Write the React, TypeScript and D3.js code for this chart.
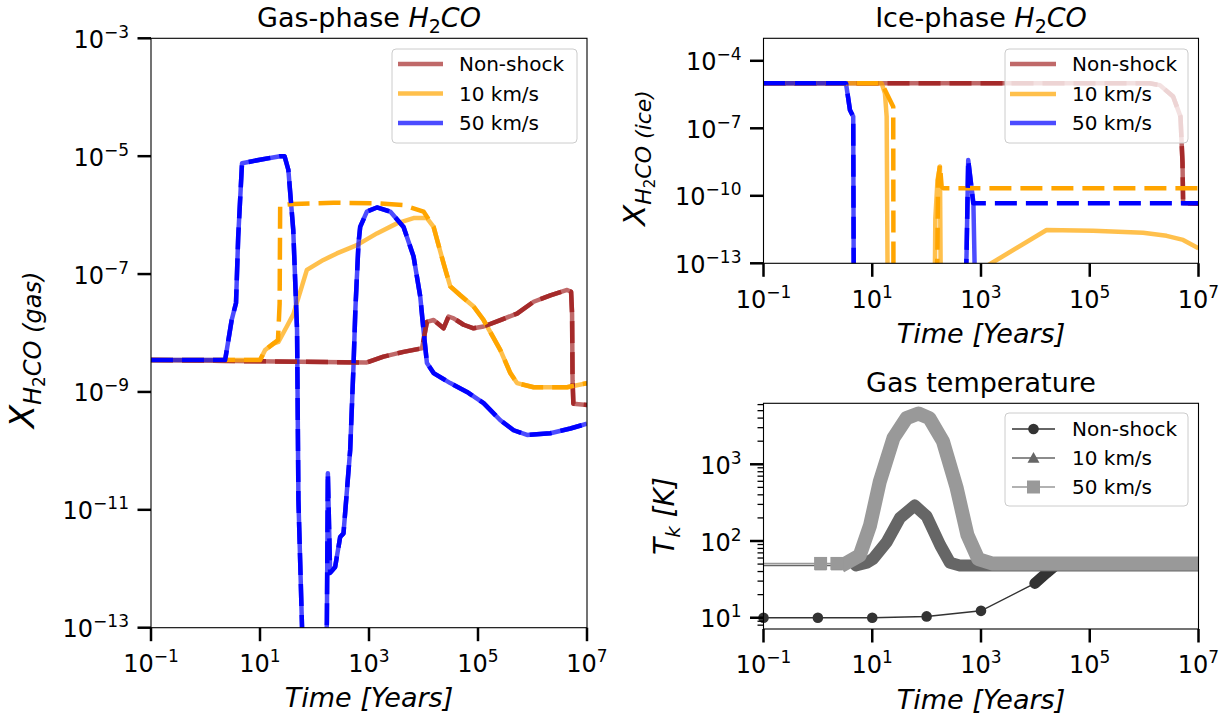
import React from 'react';
import * as d3 from 'd3';

const FONT = "'DejaVu Sans', 'Liberation Sans', sans-serif";

type P = [number, number];

// ---------- Gas-phase H2CO : [log10 time (yr), log10 abundance] ----------
const gasNonShock: P[] = [
  [-1, -8.46], [2.961, -8.5], [3.266, -8.4], [3.634, -8.32], [3.972, -8.26], [4.063, -7.81],
  [4.185, -7.78], [4.368, -7.92], [4.46, -7.72], [4.552, -7.75], [4.736, -7.86], [4.919, -7.92],
  [5.103, -7.89], [5.41, -7.78], [5.716, -7.67], [6.021, -7.47], [6.328, -7.36], [6.635, -7.27],
  [6.708, -7.3], [6.726, -7.67], [6.735, -8.8], [6.75, -9.2], [7.0, -9.22],
];
const gasShock10Solid: P[] = [
  [-1, -8.46], [1.0, -8.46], [1.094, -8.29], [1.246, -8.18], [1.338, -8.15], [1.492, -7.89],
  [1.613, -7.68], [1.768, -7.21], [1.86, -6.93], [2.164, -6.76], [2.41, -6.65], [2.778, -6.51],
  [3.145, -6.31], [3.512, -6.14], [3.817, -6.05], [4.063, -6.05], [4.185, -6.2], [4.368, -6.82],
  [4.491, -7.21], [4.675, -7.36], [4.919, -7.55], [5.103, -7.78], [5.41, -8.29], [5.593, -8.68],
  [5.716, -8.85], [6.021, -8.92], [6.635, -8.92], [7.0, -8.85],
];
const gasShock10Dashed: P[] = [
  [-1, -8.46], [1.0, -8.46], [1.094, -8.29], [1.246, -8.18], [1.33, -8.12], [1.36, -7.5],
  [1.37, -5.83], [1.613, -5.81], [2.348, -5.79], [3.145, -5.8], [3.634, -5.83], [4.0, -5.94],
  [4.185, -6.2], [4.368, -6.82], [4.491, -7.21], [4.675, -7.36], [4.919, -7.55], [5.103, -7.78],
  [5.41, -8.29], [5.593, -8.68], [5.716, -8.85], [6.021, -8.92], [6.635, -8.92], [7.0, -8.85],
];
const gasShock50: P[] = [
  [-1, -8.46], [0.36, -8.46], [0.48, -7.78], [0.56, -7.49], [0.6, -6.37], [0.67, -5.12],
  [1.0, -5.06], [1.37, -5.0], [1.45, -5.0], [1.52, -5.23], [1.61, -6.25], [1.68, -7.95],
  [1.705, -10.83], [1.77, -12.95], [1.8, -14], [2.2, -14], [2.227, -12.9], [2.245, -10.38],
  [2.287, -12.07], [2.379, -11.97], [2.471, -11.46], [2.532, -11.4], [2.655, -9.98], [2.715, -8.57],
  [2.75, -7.6], [2.807, -6.48], [2.838, -6.2], [2.961, -5.94], [3.145, -5.87], [3.389, -5.94],
  [3.634, -6.2], [3.817, -6.7], [3.94, -7.38], [4.0, -7.95], [4.063, -8.51], [4.185, -8.68],
  [4.491, -8.85], [4.798, -9.0], [5.103, -9.19], [5.41, -9.48], [5.654, -9.65], [5.9, -9.73],
  [6.328, -9.7], [6.695, -9.62], [7.0, -9.54],
];

// ---------- Ice-phase H2CO ----------
const iceNonShock: P[] = [
  [-1, -5.0], [6.1, -5.0], [6.289, -5.08], [6.533, -5.59], [6.669, -6.48], [6.706, -8.55],
  [6.717, -10.33], [7.0, -10.35],
];
const iceShock10Solid: P[] = [
  [-1, -5.0], [1.173, -5.0], [1.233, -5.44], [1.265, -6.48], [1.283, -14], [2.15, -14],
  [2.16, -11], [2.2, -9.3], [2.245, -8.7], [2.26, -14], [3.0, -14], [3.05, -13.2],
  [4.206, -11.52], [5.063, -11.55], [5.982, -11.64], [6.412, -11.78], [6.717, -11.96], [7.0, -12.33],
];
const iceShock10Dashed: P[] = [
  [-1, -5.0], [1.173, -5.0], [1.325, -5.74], [1.386, -6.04], [1.39, -14], [2.19, -14],
  [2.2, -12], [2.21, -9.3], [2.245, -8.63], [2.276, -9.59], [2.3, -9.66], [7.0, -9.66],
];
const iceShock50Solid: P[] = [
  [-1, -5.0], [0.517, -5.0], [0.59, -6.19], [0.65, -6.48], [0.66, -14], [2.72, -14],
  [2.735, -12.5], [2.765, -8.41], [2.86, -10.3], [2.89, -14], [7.0, -14],
];
const iceShock50Dashed: P[] = [
  [-1, -5.0], [0.517, -5.0], [0.59, -6.19], [0.65, -6.48], [0.66, -14], [2.72, -14],
  [2.735, -12.5], [2.765, -8.41], [2.857, -10.33], [7.0, -10.33],
];

// ---------- Gas temperature : [log10 time (yr), T (K)] ----------
const tempNonShock: P[] = [
  [-1, 10], [0, 10], [1, 10], [2, 10.4], [3, 12.3], [3.99, 28], [4.2, 38], [4.4, 50], [7, 50],
];
const tempShock10: P[] = [
  [-1, 48], [0.05, 48], [0.35, 48], [0.7, 48], [0.9, 52], [1.02, 59], [1.27, 98], [1.51, 200],
  [1.78, 290], [2.0, 210], [2.25, 88], [2.43, 52], [2.61, 48], [7, 48],
];
const tempShock50: P[] = [
  [-1, 51], [0.05, 51], [0.35, 51], [0.53, 52], [0.77, 65], [0.96, 160], [1.14, 600],
  [1.39, 2200], [1.63, 4000], [1.85, 4600], [2.05, 4000], [2.3, 2000], [2.55, 500],
  [2.75, 120], [2.95, 58], [3.2, 51], [7, 51],
];
// first time (log10) from which the model output is densely sampled (markers merge)
const denseStart = [3.99, 0.7, 0.53];

const seriesLabels = ['Non-shock', '10 km/s', '50 km/s'];
const lineColors = ['#a52a2a', '#ffa500', '#0000ff'];
const tempColors = ['#333333', '#666666', '#999999'];
const xTickExps = [-1, 1, 3, 5, 7];
const gasYTickExps = [-3, -5, -7, -9, -11, -13];
const iceYTickExps = [-4, -7, -10, -13];
const tempYTickExps = [1, 2, 3];

// ---------- layout ----------
const W = 1223, H = 719;
const gasBox = { x0: 151, x1: 587, y0: 38.3, y1: 627.7 };
const iceBox = { x0: 763.5, x1: 1198.5, y0: 38.3, y1: 263.3 };
const tmpBox = { x0: 763.5, x1: 1198.5, y0: 403.3, y1: 629 };

const gasX = d3.scaleLog().domain([1e-1, 1e7]).range([gasBox.x0, gasBox.x1]);
const gasY = d3.scaleLog().domain([1e-13, 1e-3]).range([gasBox.y1, gasBox.y0]);
const iceX = d3.scaleLog().domain([1e-1, 1e7]).range([iceBox.x0, iceBox.x1]);
const iceY = d3.scaleLog().domain([1e-13, 10 ** -3.0]).range([iceBox.y1, iceBox.y0]);
const tmpX = d3.scaleLog().domain([1e-1, 1e7]).range([tmpBox.x0, tmpBox.x1]);
const tmpY = d3.scaleLog().domain([10 ** 0.853, 10 ** 3.795]).range([tmpBox.y1, tmpBox.y0]);

const logLine = (sx: any, sy: any) =>
  d3.line<P>().x(d => sx(10 ** d[0])).y(d => sy(10 ** d[1]));
const tempLine = d3.line<P>().x(d => tmpX(10 ** d[0])).y(d => tmpY(d[1]));

const DASH = '22,9';
const LW = 4.5;

function Pow({ x, y, exp, anchor }: { x: number; y: number; exp: number; anchor: string }) {
  const e = exp < 0 ? '\u2212' + Math.abs(exp) : String(exp);
  return (
    <text x={x} y={y} textAnchor={anchor as any} fontSize={24} fontFamily={FONT} fill="#000">
      10<tspan dy={-10} fontSize={17}>{e}</tspan>
    </text>
  );
}

function Frame({ box, sx, sy, yExps, minorY }: any) {
  const TL = 13.5;
  const out: any[] = [];
  xTickExps.forEach(e => {
    const x = sx(10 ** e);
    out.push(<line key={'xt' + e} x1={x} x2={x} y1={box.y1} y2={box.y1 + TL} stroke="#000" strokeWidth={2.5} />);
    out.push(<Pow key={'xl' + e} x={x} y={box.y1 + 44.3} exp={e} anchor="middle" />);
  });
  if (minorY) {
    sy.ticks().forEach((v: number, i: number) => {
      const lg = Math.log10(v);
      if (Math.abs(lg - Math.round(lg)) < 1e-6) return;
      const y = sy(v);
      out.push(<line key={'ym' + i} x1={box.x0 - 6} x2={box.x0} y1={y} y2={y} stroke="#000" strokeWidth={1.3} />);
    });
  }
  yExps.forEach((e: number) => {
    const y = sy(10 ** e);
    out.push(<line key={'yt' + e} x1={box.x0 - TL} x2={box.x0} y1={y} y2={y} stroke="#000" strokeWidth={2.5} />);
    out.push(<Pow key={'yl' + e} x={box.x0 - 22} y={y + 9.5} exp={e} anchor="end" />);
  });
  out.push(
    <rect key="frame" x={box.x0} y={box.y0} width={box.x1 - box.x0} height={box.y1 - box.y0}
      fill="none" stroke="#000" strokeWidth={1.1} />
  );
  return <g>{out}</g>;
}

function Legend({ x0, y0, x1, y1, rows, hx0, hx1, tx, kind }: any) {
  return (
    <g>
      <rect x={x0} y={y0} width={x1 - x0} height={y1 - y0} rx={4} fill="#fff" fillOpacity={0.8}
        stroke="#cccccc" strokeWidth={1} />
      {seriesLabels.map((lab, i) => {
        const y = rows[i];
        const mx = (hx0 + hx1) / 2;
        return (
          <g key={lab}>
            {kind === 'line' ? (
              <line x1={hx0} x2={hx1} y1={y} y2={y} stroke={lineColors[i]} strokeOpacity={0.7} strokeWidth={LW} />
            ) : (
              <g>
                <line x1={hx0} x2={hx1} y1={y} y2={y} stroke={tempColors[i]} strokeWidth={1.5} />
                <Marker kind={i} x={mx} y={y} />
              </g>
            )}
            <text x={tx} y={y + 7} fontSize={20} fontFamily={FONT} fill="#000">{lab}</text>
          </g>
        );
      })}
    </g>
  );
}

function Marker({ kind, x, y }: { kind: number; x: number; y: number }) {
  const c = tempColors[kind];
  if (kind === 0) return <circle cx={x} cy={y} r={5.3} fill={c} />;
  if (kind === 1) {
    const s = 6;
    return <path d={`M${x},${y - s}L${x + s},${y + s * 0.8}L${x - s},${y + s * 0.8}Z`} fill={c} />;
  }
  return <rect x={x - 6.5} y={y - 6.5} width={13} height={13} fill={c} />;
}

export default function App() {
  const gl = logLine(gasX, gasY);
  const il = logLine(iceX, iceY);
  const gasSolid = [gasNonShock, gasShock10Solid, gasShock50];
  const gasDashed = [gasNonShock, gasShock10Dashed, gasShock50];
  const iceSolid = [iceNonShock, iceShock10Solid, iceShock50Solid];
  const iceDashed = [iceNonShock, iceShock10Dashed, iceShock50Dashed];
  const temps = [tempNonShock, tempShock10, tempShock50];
  const bandW = [11, 12, 14];

  const clip = (id: string, b: any) => (
    <clipPath id={id}>
      <rect x={b.x0} y={b.y0} width={b.x1 - b.x0} height={b.y1 - b.y0} />
    </clipPath>
  );

  return (
    <svg width={W} height={H} style={{ position: 'absolute', left: 0, top: 0, background: '#fff' }}
      xmlns="http://www.w3.org/2000/svg">
      <defs>
        {clip('cGas', gasBox)}
        {clip('cIce', iceBox)}
        {clip('cTmp', tmpBox)}
      </defs>
      <rect x={0} y={0} width={W} height={H} fill="#fff" />

      {/* Gas-phase */}
      <g clipPath="url(#cGas)" fill="none" strokeLinejoin="round">
        {gasSolid.map((d, i) => (
          <path key={'gs' + i} d={gl(d) as string} stroke={lineColors[i]} strokeOpacity={0.7} strokeWidth={LW} />
        ))}
        {gasDashed.map((d, i) => (
          <path key={'gd' + i} d={gl(d) as string} stroke={lineColors[i]} strokeWidth={LW} strokeDasharray={DASH} />
        ))}
      </g>
      <Frame box={gasBox} sx={gasX} sy={gasY} yExps={gasYTickExps} />
      <Legend x0={392} y0={49} x1={577} y1={143} rows={[64, 93.5, 123]} hx0={398} hx1={443} tx={459} kind="line" />

      {/* Ice-phase */}
      <g clipPath="url(#cIce)" fill="none" strokeLinejoin="round">
        {iceSolid.map((d, i) => (
          <path key={'is' + i} d={il(d) as string} stroke={lineColors[i]} strokeOpacity={0.7} strokeWidth={LW} />
        ))}
        {iceDashed.map((d, i) => (
          <path key={'id' + i} d={il(d) as string} stroke={lineColors[i]} strokeWidth={LW} strokeDasharray={DASH} />
        ))}
      </g>
      <Frame box={iceBox} sx={iceX} sy={iceY} yExps={iceYTickExps} />
      <Legend x0={1005} y0={49} x1={1188} y1={143} rows={[64, 94, 123]} hx0={1010} hx1={1056} tx={1072} kind="line" />

      {/* Gas temperature */}
      <g>
        {temps.map((d, i) => {
          const dense = d.filter(p => p[0] >= denseStart[i]);
          const sparse = d.filter(p => p[0] < denseStart[i] && p[0] >= -1);
          return (
            <g key={'t' + i}>
              <path d={tempLine(d) as string} fill="none" stroke={tempColors[i]} strokeWidth={1.5} clipPath="url(#cTmp)" />
              <path d={tempLine(dense) as string} fill="none" stroke={tempColors[i]} strokeWidth={bandW[i]}
                strokeLinejoin="round" strokeLinecap={i === 2 ? 'square' : 'round'} clipPath="url(#cTmp)" />
              {sparse.filter((p, j) => i === 0 || j > 0).map((p, j) => (
                <Marker key={j} kind={i} x={tmpX(10 ** p[0])} y={tmpY(p[1])} />
              ))}
            </g>
          );
        })}
      </g>
      <Frame box={tmpBox} sx={tmpX} sy={tmpY} yExps={tempYTickExps} minorY />
      <Legend x0={1005} y0={413} x1={1188} y1={506} rows={[429, 458, 487]} hx0={1012} hx1={1055} tx={1072} kind="marker" />

      {/* titles */}
      <g fontFamily={FONT} fill="#000">
        <text x={369} y={27} textAnchor="middle" fontSize={27}>
          Gas-phase <tspan fontStyle="italic">H</tspan><tspan fontSize={19} dy={6}>2</tspan><tspan fontStyle="italic" dy={-6}>CO</tspan>
        </text>
        <text x={981} y={27} textAnchor="middle" fontSize={27}>
          Ice-phase <tspan fontStyle="italic">H</tspan><tspan fontSize={19} dy={6}>2</tspan><tspan fontStyle="italic" dy={-6}>CO</tspan>
        </text>
        <text x={981} y={391.7} textAnchor="middle" fontSize={27}>Gas temperature</text>

        {/* x labels */}
        <text x={369} y={707} textAnchor="middle" fontSize={27} fontStyle="italic">Time [Years]</text>
        <text x={981} y={342.8} textAnchor="middle" fontSize={27} fontStyle="italic">Time [Years]</text>
        <text x={981} y={708.5} textAnchor="middle" fontSize={27} fontStyle="italic">Time [Years]</text>

        {/* y labels */}
        <text transform="translate(34,350) rotate(-90)" textAnchor="middle" fontSize={34} fontStyle="italic">
          X<tspan fontSize={24} dy={7}>H</tspan><tspan fontSize={17} dy={4} fontStyle="normal">2</tspan><tspan fontSize={24} dy={-4}>CO (gas)</tspan>
        </text>
        <text transform="translate(645,158) rotate(-90)" textAnchor="middle" fontSize={31} fontStyle="italic">
          X<tspan fontSize={22} dy={6}>H</tspan><tspan fontSize={15} dy={4} fontStyle="normal">2</tspan><tspan fontSize={22} dy={-4}>CO (ice)</tspan>
        </text>
        <text transform="translate(674,516) rotate(-90)" textAnchor="middle" fontSize={28} fontStyle="italic">
          T<tspan fontSize={20} dy={6}>k</tspan><tspan dy={-6}> [K]</tspan>
        </text>
      </g>
    </svg>
  );
}
